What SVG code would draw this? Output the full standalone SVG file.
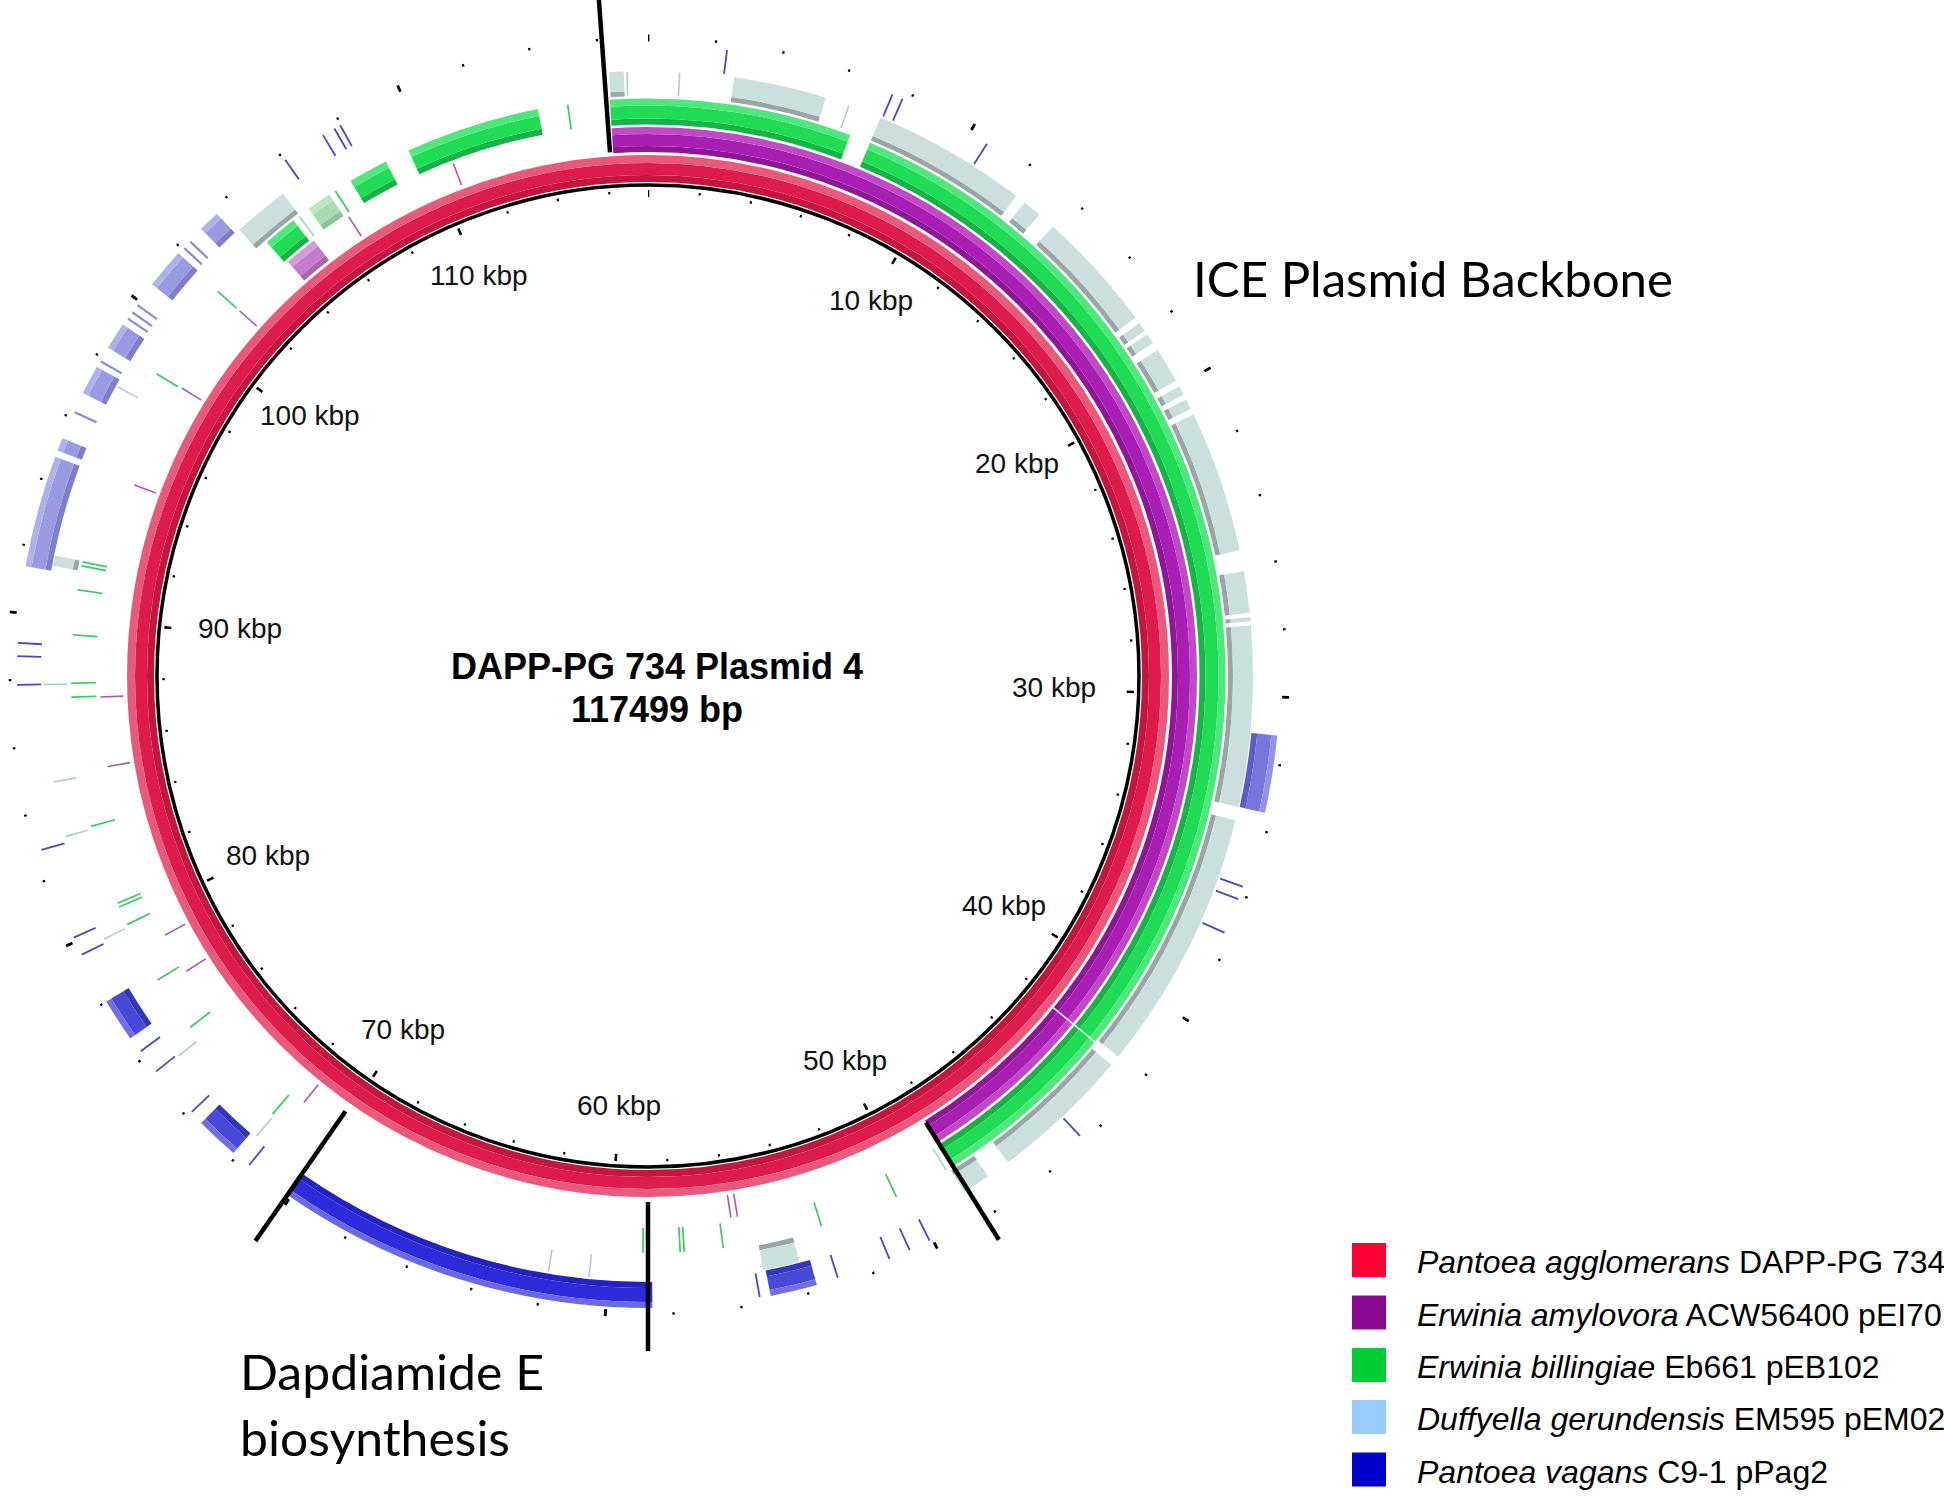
<svg xmlns="http://www.w3.org/2000/svg" width="1944" height="1496" viewBox="0 0 1944 1496">
<style>
.lbl{font-family:"Liberation Sans",Arial,sans-serif;font-size:28px;fill:#111}
.ctr{font-family:"Liberation Sans",Arial,sans-serif;font-size:36px;font-weight:bold;fill:#000;text-anchor:middle}
.ann{font-family:Lato,"Open Sans",sans-serif;font-size:49px;fill:#000}
.leg{font-family:"Liberation Sans",Arial,sans-serif;font-size:32px;fill:#000}
.it{font-style:italic}
.div{stroke:#000;stroke-width:4.5;fill:none}
.sp{stroke-dasharray:148.1 208.1 3.8 10}
.spb{stroke-dasharray:0 319 3.5 400}
.sg{stroke-dasharray:20.5 2.1 125.5 170.6 3.4 6.9 4 2.5 13.5 7.2 3.8 10}
.sgp{stroke-dasharray:0 324 2.5 400}
.sd{stroke-dasharray:0 8.2 8.9 5.5 14.9 1 1.8 1.7 11.7 0.6 0.9 0.4 1 0.8 3.4 0.6 0.9 0.5 1 0.6 13.6 2 4 0.4 0.4 0.4 17.3 1.3 25.2 1 13.5 2.3 2.7 17 3.5 111.5 1 36 5.4 33.4 1.4 10}
.sbd{stroke-dasharray:0 179.6 35.1 400}
.sbm{stroke-dasharray:0 164.5 4.3 52.2 4 10 4 400}
.sbr{stroke-dasharray:0 95.4 7.1 400}
.sbl{stroke-dasharray:0 280 10.3 0.6 1.2 4.5 2.7 2 2.5 4.5 3.7 3 2 100}
.tpu{stroke:#a45cae;stroke-width:1.6}
.tgr{stroke:#3acb62;stroke-width:1.7}
.tgp{stroke:#a6dab0;stroke-width:1.6}
.tdu{stroke:#b4caca;stroke-width:1.6}
.tbl{stroke:#4848c6;stroke-width:1.8}
.tbv{stroke:#8a8ad8;stroke-width:2.2}
.twh{stroke:#fff;stroke-width:1.5}
</style>
<defs>
<line id="lpu" class="tpu" x1="648" y1="151" x2="648" y2="128"/>
<line id="lgr" class="tgr" x1="648" y1="124" x2="648" y2="99"/>
<line id="lgp" class="tgp" x1="648" y1="124" x2="648" y2="99"/>
<line id="ldu" class="tdu" x1="648" y1="95" x2="648" y2="72"/>
<line id="lbl" class="tbl" x1="648" y1="69" x2="648" y2="45"/>
<line id="lbv" class="tbv" x1="648" y1="69" x2="648" y2="45"/>
<line id="lwh" class="twh" x1="648" y1="153" x2="648" y2="97"/>
</defs>
<rect width="1944" height="1496" fill="#fff"/>

<g id="rings" transform="rotate(-90 648 676)" fill="none">
 <g id="ruler-inner">
  <circle cx="648" cy="676" r="491" stroke="#000" stroke-width="3.5"/>
  <circle cx="648" cy="676" r="484.5" stroke="#000" stroke-width="2.5" pathLength="360" stroke-dasharray="0.25 5.87771" stroke-dashoffset="0.125"/>
  <circle cx="648" cy="676" r="482.5" stroke="#000" stroke-width="7" pathLength="360" stroke-dasharray="0.3 30.33856" stroke-dashoffset="0.15"/>
 </g>
 <g id="ring-agglomerans">
  <circle cx="648" cy="676" r="497.5" stroke="#c5163f" stroke-width="7"/>
  <circle cx="648" cy="676" r="507" stroke="#de1c4b" stroke-width="12"/>
  <circle cx="648" cy="676" r="517" stroke="#e8597b" stroke-width="8"/>
 </g>
 <g id="ring-amylovora">
  <circle class="sp" cx="648" cy="676" r="527" stroke="#8e1795" stroke-width="6" pathLength="360"/>
  <circle class="sp" cx="648" cy="676" r="536" stroke="#aa1fb3" stroke-width="12" pathLength="360"/>
  <circle class="sp" cx="648" cy="676" r="545.5" stroke="#c04ac6" stroke-width="7" pathLength="360"/>
  <circle class="spb" cx="648" cy="676" r="527" stroke="#a865b0" stroke-width="6" pathLength="360"/>
  <circle class="spb" cx="648" cy="676" r="536" stroke="#c27ccb" stroke-width="12" pathLength="360"/>
  <circle class="spb" cx="648" cy="676" r="545.5" stroke="#d49cd9" stroke-width="7" pathLength="360"/>
 </g>
 <g id="ring-billingiae">
  <circle class="sg" cx="648" cy="676" r="554.5" stroke="#17b346" stroke-width="6" pathLength="360"/>
  <circle class="sg" cx="648" cy="676" r="564" stroke="#20dc55" stroke-width="13" pathLength="360"/>
  <circle class="sg" cx="648" cy="676" r="574" stroke="#4fe67b" stroke-width="7" pathLength="360"/>
  <circle class="sgp" cx="648" cy="676" r="554.5" stroke="#8fc29a" stroke-width="6" pathLength="360"/>
  <circle class="sgp" cx="648" cy="676" r="564" stroke="#a6dcb0" stroke-width="13" pathLength="360"/>
  <circle class="sgp" cx="648" cy="676" r="574" stroke="#bce6c3" stroke-width="7" pathLength="360"/>
 </g>
 <g id="ring-gerundensis">
  <circle class="sd" cx="648" cy="676" r="582.5" stroke="#9aa6a6" stroke-width="5" pathLength="360"/>
  <circle class="sd" cx="648" cy="676" r="595" stroke="#cbdfdf" stroke-width="20" pathLength="360"/>
 </g>
 <g id="ring-vagans">
  <circle class="sbd" cx="648" cy="676" r="609" stroke="#2121c4" stroke-width="6" pathLength="360"/>
  <circle class="sbd" cx="648" cy="676" r="619" stroke="#2c2cdb" stroke-width="14" pathLength="360"/>
  <circle class="sbd" cx="648" cy="676" r="629" stroke="#6969e4" stroke-width="6" pathLength="360"/>
  <circle class="sbm" cx="648" cy="676" r="609" stroke="#3535bb" stroke-width="6" pathLength="360"/>
  <circle class="sbm" cx="648" cy="676" r="619" stroke="#4848d9" stroke-width="14" pathLength="360"/>
  <circle class="sbm" cx="648" cy="676" r="629" stroke="#7070e2" stroke-width="6" pathLength="360"/>
  <circle class="sbr" cx="648" cy="676" r="609" stroke="#5c5cc8" stroke-width="6" pathLength="360"/>
  <circle class="sbr" cx="648" cy="676" r="619" stroke="#7676dd" stroke-width="14" pathLength="360"/>
  <circle class="sbr" cx="648" cy="676" r="629" stroke="#9292e6" stroke-width="6" pathLength="360"/>
  <circle class="sbl" cx="648" cy="676" r="609" stroke="#7e7ecc" stroke-width="6" pathLength="360"/>
  <circle class="sbl" cx="648" cy="676" r="619" stroke="#9a9ae2" stroke-width="14" pathLength="360"/>
  <circle class="sbl" cx="648" cy="676" r="629" stroke="#b0b0ea" stroke-width="6" pathLength="360"/>
 </g>
 <g id="ruler-outer">
  <circle cx="648" cy="676" r="638" stroke="#000" stroke-width="2.5" pathLength="360" stroke-dasharray="0.2 5.92771" stroke-dashoffset="0.1"/>
  <circle cx="648" cy="676" r="638" stroke="#000" stroke-width="7" pathLength="360" stroke-dasharray="0.25 30.38856" stroke-dashoffset="0.125"/>
 </g>
</g>

<g id="hits">
 <use href="#lpu" transform="rotate(339.2 648 676)"/><use href="#lpu" transform="rotate(326.9 648 676)"/><use href="#lpu" transform="rotate(311.8 648 676)"/><use href="#lpu" transform="rotate(301.7 648 676)"/><use href="#lpu" transform="rotate(290.4 648 676)"/><use href="#lpu" transform="rotate(267.8 648 676)"/><use href="#lpu" transform="rotate(260.5 648 676)"/><use href="#lpu" transform="rotate(241.8 648 676)"/><use href="#lpu" transform="rotate(237.4 648 676)"/><use href="#lpu" transform="rotate(218.9 648 676)"/><use href="#lpu" transform="rotate(170.6 648 676)"/><use href="#lpu" transform="rotate(171.3 648 676)"/>
 <use href="#lgr" transform="rotate(352 648 676)"/><use href="#lgr" transform="rotate(327.2 648 676)"/><use href="#lgr" transform="rotate(311.8 648 676)"/><use href="#lgr" transform="rotate(301.6 648 676)"/><use href="#lgr" transform="rotate(281 648 676)"/><use href="#lgr" transform="rotate(281.4 648 676)"/><use href="#lgr" transform="rotate(278.6 648 676)"/><use href="#lgr" transform="rotate(274.1 648 676)"/><use href="#lgr" transform="rotate(269.3 648 676)"/><use href="#lgr" transform="rotate(267.9 648 676)"/><use href="#lgr" transform="rotate(254.9 648 676)"/><use href="#lgr" transform="rotate(246.4 648 676)"/><use href="#lgr" transform="rotate(246.8 648 676)"/><use href="#lgr" transform="rotate(244.5 648 676)"/><use href="#lgr" transform="rotate(238.2 648 676)"/><use href="#lgr" transform="rotate(232.5 648 676)"/><use href="#lgr" transform="rotate(220.6 648 676)"/><use href="#lgr" transform="rotate(180.1 648 676)"/><use href="#lgr" transform="rotate(180.5 648 676)"/><use href="#lgr" transform="rotate(176.8 648 676)"/><use href="#lgr" transform="rotate(176.4 648 676)"/><use href="#lgr" transform="rotate(172.5 648 676)"/><use href="#lgr" transform="rotate(162.5 648 676)"/><use href="#lgr" transform="rotate(154.5 648 676)"/>
 <use href="#lgp" transform="rotate(322.8 648 676)"/><use href="#lgp" transform="rotate(148.9 648 676)"/>
 <use href="#ldu" transform="rotate(3 648 676)"/><use href="#ldu" transform="rotate(358 648 676)"/><use href="#ldu" transform="rotate(19.4 648 676)"/><use href="#ldu" transform="rotate(298.6 648 676)"/><use href="#ldu" transform="rotate(269.2 648 676)"/><use href="#ldu" transform="rotate(259.9 648 676)"/><use href="#ldu" transform="rotate(254.6 648 676)"/><use href="#ldu" transform="rotate(244.2 648 676)"/><use href="#ldu" transform="rotate(231 648 676)"/><use href="#ldu" transform="rotate(220.4 648 676)"/><use href="#ldu" transform="rotate(189.5 648 676)"/><use href="#ldu" transform="rotate(185.6 648 676)"/>
 <use href="#lbl" transform="rotate(7.2 648 676)"/><use href="#lbl" transform="rotate(22.8 648 676)"/><use href="#lbl" transform="rotate(23.8 648 676)"/><use href="#lbl" transform="rotate(32.5 648 676)"/><use href="#lbl" transform="rotate(109.5 648 676)"/><use href="#lbl" transform="rotate(110.7 648 676)"/><use href="#lbl" transform="rotate(114 648 676)"/><use href="#lbl" transform="rotate(136.8 648 676)"/><use href="#lbl" transform="rotate(153.5 648 676)"/><use href="#lbl" transform="rotate(155.5 648 676)"/><use href="#lbl" transform="rotate(157.5 648 676)"/><use href="#lbl" transform="rotate(162.5 648 676)"/><use href="#lbl" transform="rotate(169.8 648 676)"/><use href="#lbl" transform="rotate(219.2 648 676)"/><use href="#lbl" transform="rotate(226.3 648 676)"/><use href="#lbl" transform="rotate(231.2 648 676)"/><use href="#lbl" transform="rotate(233.5 648 676)"/><use href="#lbl" transform="rotate(243.8 648 676)"/><use href="#lbl" transform="rotate(245.5 648 676)"/><use href="#lbl" transform="rotate(254 648 676)"/><use href="#lbl" transform="rotate(269.2 648 676)"/><use href="#lbl" transform="rotate(271.8 648 676)"/><use href="#lbl" transform="rotate(273 648 676)"/><use href="#lbl" transform="rotate(324.9 648 676)"/><use href="#lbl" transform="rotate(329 648 676)"/><use href="#lbl" transform="rotate(330.2 648 676)"/><use href="#lbl" transform="rotate(330.8 648 676)"/>
 <use href="#lbv" transform="rotate(294.7 648 676)"/><use href="#lbv" transform="rotate(299.9 648 676)"/><use href="#lbv" transform="rotate(304.5 648 676)"/><use href="#lbv" transform="rotate(305.2 648 676)"/><use href="#lbv" transform="rotate(306 648 676)"/><use href="#lbv" transform="rotate(312.7 648 676)"/><use href="#lbv" transform="rotate(313.5 648 676)"/>
 <use href="#lwh" transform="rotate(129.3 648 676)"/>
</g>

<g id="connectors">
 <line class="div" x1="610" y1="152.4" x2="598.6" y2="-4"/>
 <line class="div" x1="925.9" y1="1122.6" x2="998.9" y2="1239.7"/>
 <line class="div" x1="648" y1="1202" x2="648" y2="1351"/>
 <line class="div" x1="345.5" y1="1111.2" x2="255.4" y2="1240.9"/>
</g>

<g id="kbp-labels">
 <text class="lbl" x="829" y="310">10 kbp</text>
 <text class="lbl" x="975" y="473">20 kbp</text>
 <text class="lbl" x="1012" y="697">30 kbp</text>
 <text class="lbl" x="962" y="915">40 kbp</text>
 <text class="lbl" x="803" y="1070">50 kbp</text>
 <text class="lbl" x="577" y="1115">60 kbp</text>
 <text class="lbl" x="361" y="1039">70 kbp</text>
 <text class="lbl" x="226" y="865">80 kbp</text>
 <text class="lbl" x="198" y="638">90 kbp</text>
 <text class="lbl" x="260" y="425">100 kbp</text>
 <text class="lbl" x="430" y="285">110 kbp</text>
</g>

<g id="title">
 <text class="ctr" x="657" y="679">DAPP-PG 734 Plasmid 4</text>
 <text class="ctr" x="657" y="722">117499 bp</text>
</g>

<g id="annotation-ice">
 <text class="ann" x="1193" y="297" textLength="480" lengthAdjust="spacingAndGlyphs">ICE Plasmid Backbone</text>
</g>
<g id="annotation-dapdiamide">
 <text class="ann" x="240" y="1390" textLength="304" lengthAdjust="spacingAndGlyphs">Dapdiamide E</text>
 <text class="ann" x="240" y="1456" textLength="270" lengthAdjust="spacingAndGlyphs">biosynthesis</text>
</g>

<g id="legend">
 <g id="legend-1"><rect x="1352" y="1243" width="34" height="34" fill="#ff0033"/><text class="leg" x="1417" y="1273"><tspan class="it">Pantoea agglomerans</tspan> DAPP-PG 734</text></g>
 <g id="legend-2"><rect x="1352" y="1295.5" width="34" height="34" fill="#8c0a92"/><text class="leg" x="1417" y="1325.5"><tspan class="it">Erwinia amylovora</tspan> ACW56400 pEI70</text></g>
 <g id="legend-3"><rect x="1352" y="1348" width="34" height="34" fill="#00cc33"/><text class="leg" x="1417" y="1378"><tspan class="it">Erwinia billingiae</tspan> Eb661 pEB102</text></g>
 <g id="legend-4"><rect x="1352" y="1400" width="34" height="34" fill="#99ccff"/><text class="leg" x="1417" y="1430"><tspan class="it">Duffyella gerundensis</tspan> EM595 pEM02</text></g>
 <g id="legend-5"><rect x="1352" y="1452.5" width="34" height="34" fill="#0000cc"/><text class="leg" x="1417" y="1482.5"><tspan class="it">Pantoea vagans</tspan> C9-1 pPag2</text></g>
</g>
</svg>
